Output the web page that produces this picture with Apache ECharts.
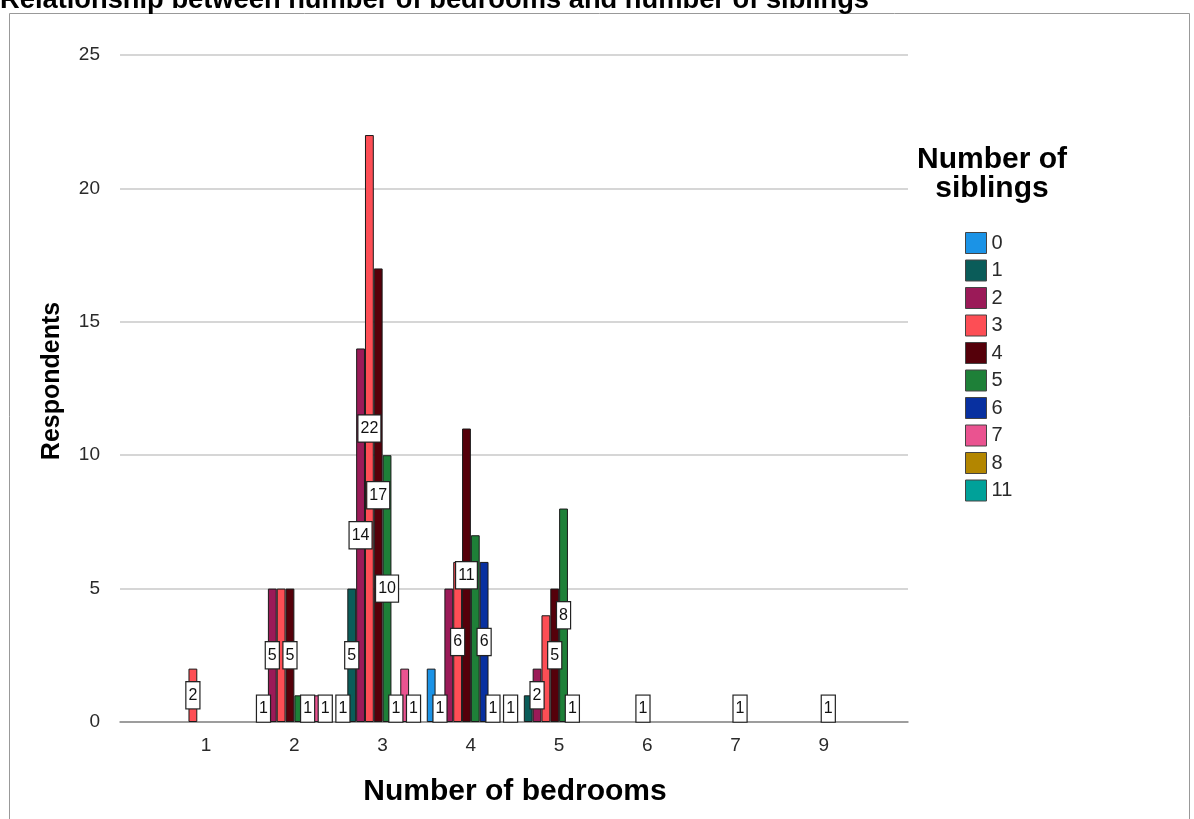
<!DOCTYPE html>
<html><head><meta charset="utf-8">
<script src="https://cdn.jsdelivr.net/npm/echarts@6/dist/echarts.min.js"></script>
<style>html,body{margin:0;padding:0;background:#fff}#c{width:1194px;height:819px}</style>
</head><body><div id="c"></div>
<script>
// Categories (x axis): number of bedrooms
const bedrooms = ['1', '2', '3', '4', '5', '6', '7', '9'];
// Series: number of siblings
const siblings = ['0', '1', '2', '3', '4', '5', '6', '7', '8', '11'];
// Respondent counts per sibling group, in bedroom order
const sib0  = [0, 0, 1, 2, 0, 0, 0, 0];
const sib1  = [0, 1, 5, 1, 1, 0, 0, 0];
const sib2  = [0, 5, 14, 5, 2, 0, 0, 0];
const sib3  = [2, 5, 22, 6, 4, 0, 0, 0];
const sib4  = [0, 5, 17, 11, 5, 1, 0, 0];
const sib5  = [0, 1, 10, 7, 8, 0, 1, 1];
const sib6  = [0, 1, 1, 6, 1, 0, 0, 0];
const sib7  = [0, 1, 2, 1, 0, 0, 0, 0];
const sib8  = [0, 1, 1, 0, 0, 0, 0, 0];
const sib11 = [0, 0, 0, 1, 0, 0, 0, 0];
const seriesValues = [sib0, sib1, sib2, sib3, sib4, sib5, sib6, sib7, sib8, sib11];
// Value labels not shown in the reference ([sibling index, bedroom index])
const hiddenLabels = [[3,1],[5,1],[7,1],[7,2],[0,3],[2,3],[5,3],[1,4],[3,4]];
// Y axis ticks
const yMin = 0, yMax = 25, yStep = 5;

const colors = ['#1b93e6', '#0a5c59', '#9b1a58', '#fd4e55', '#55000a', '#1e8038', '#0830a0', '#ea5390', '#b38600', '#00a199'];
const FONT = 'Liberation Sans, Arial, sans-serif';

const isHidden = (i, j) => hiddenLabels.some(p => p[0] === i && p[1] === j);

const series = siblings.map((name, i) => ({
  type: 'bar',
  name: name,
  xAxisIndex: 1,
  yAxisIndex: 1,
  barGap: '0%',
  barCategoryGap: '0%',
  itemStyle: { color: colors[i], borderColor: '#1a1a1a', borderWidth: 1 },
  label: {
    show: true,
    position: 'inside',
    formatter: '{c}',
    fontFamily: FONT,
    fontSize: 16,
    color: '#111',
    backgroundColor: '#fff',
    borderColor: '#222',
    borderWidth: 1.2,
    padding: [5, 2, 5, 2]
  },
  data: seriesValues[i].map((v, j) => v === 0 ? '-' : { value: v, label: { show: !isHidden(i, j) } })
}));

const chart = echarts.init(document.getElementById('c'), null, { renderer: 'canvas' });
chart.setOption({
  animation: false,
  backgroundColor: '#fff',
  color: colors,
  grid: [
    { left: 120, right: 286, top: 55, bottom: 97 },
    { left: 162, right: 326, top: 55, bottom: 97 }
  ],
  xAxis: [
    { gridIndex: 0, type: 'value', min: 0, max: 1,
      axisLine: { show: true, lineStyle: { color: '#8a8a8a', width: 1.5 } },
      axisTick: { show: false }, axisLabel: { show: false }, splitLine: { show: false } },
    { gridIndex: 1, type: 'category', data: bedrooms,
      axisLine: { show: false }, axisTick: { show: false },
      axisLabel: { fontFamily: FONT, fontSize: 19, color: '#2a2a2a', margin: 14 } }
  ],
  yAxis: [
    { gridIndex: 0, type: 'value', min: yMin, max: yMax, interval: yStep,
      axisLine: { show: false }, axisTick: { show: false },
      axisLabel: { fontFamily: FONT, fontSize: 19, color: '#2a2a2a', margin: 20 },
      splitLine: { lineStyle: { color: '#c8c8c8', width: 1.5 } } },
    { gridIndex: 1, type: 'value', min: yMin, max: yMax, interval: yStep, show: false,
      splitLine: { show: false } }
  ],
  legend: {
    orient: 'vertical',
    left: 960,
    top: 227,
    itemWidth: 21,
    itemHeight: 21,
    itemGap: 5.5,
    icon: 'rect',
    data: siblings,
    itemStyle: { borderColor: '#444', borderWidth: 1 },
    textStyle: { fontFamily: FONT, fontSize: 20, color: '#2a2a2a' }
  },
  graphic: [
    { type: 'rect', shape: { x: 9.5, y: 13.5, width: 1180, height: 900 },
      style: { fill: 'none', stroke: '#999', lineWidth: 1 }, silent: true },
    { type: 'text', x: 0, y: 0,
      style: { text: 'Relationship between number of bedrooms and number of siblings',
        font: 'bold 27.3px ' + FONT, fill: '#000', textAlign: 'left', textVerticalAlign: 'middle' } },
    { type: 'text', x: 52, y: 381, rotation: Math.PI / 2,
      style: { text: 'Respondents', font: 'bold 25px ' + FONT, fill: '#000', textAlign: 'center', textVerticalAlign: 'middle' } },
    { type: 'text', x: 515, y: 792,
      style: { text: 'Number of bedrooms', font: 'bold 30px ' + FONT, fill: '#000', textAlign: 'center', textVerticalAlign: 'middle' } },
    { type: 'text', x: 992, y: 174,
      style: { text: 'Number of\nsiblings', font: 'bold 30px ' + FONT, lineHeight: 29, fill: '#000', textAlign: 'center', textVerticalAlign: 'middle' } }
  ],
  series: series
});
</script>
</body></html>
